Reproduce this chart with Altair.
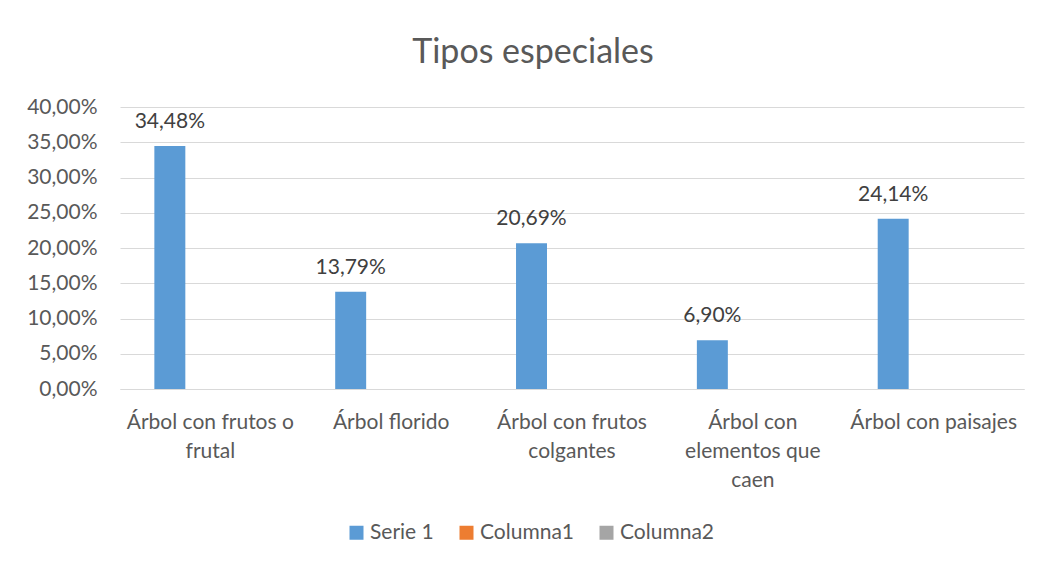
import altair as alt
import pandas as pd

categories = [
    "Árbol con frutos o frutal",
    "Árbol florido",
    "Árbol con frutos colgantes",
    "Árbol con elementos que caen",
    "Árbol con paisajes",
]
label_lines = [
    ["Árbol con frutos o", "frutal"],
    ["Árbol florido"],
    ["Árbol con frutos", "colgantes"],
    ["Árbol con", "elementos que", "caen"],
    ["Árbol con paisajes"],
]
serie1 = [34.48, 13.79, 20.69, 6.90, 24.14]
series = ["Serie 1", "Columna1", "Columna2"]
colors = ["#5b9bd5", "#ed7d31", "#a5a5a5"]
y_ticks = [0, 5, 10, 15, 20, 25, 30, 35, 40]

df = pd.DataFrame({
    "cat": categories,
    "serie": ["Serie 1"] * len(categories),
    "val": serie1,
})
df["lbl"] = [f"{v:.2f}%".replace(".", ",") for v in serie1]

# label expression for wrapped x labels
expr = "''"
for c, lines in reversed(list(zip(categories, label_lines))):
    arr = "[" + ",".join("'" + l + "'" for l in lines) + "]"
    expr = f"datum.value == '{c}' ? {arr} : ({expr})"

FONT = "Lato"
FS = 21

x = alt.X("cat:N", sort=categories, title=None,
          scale=alt.Scale(paddingInner=0.381, paddingOuter=0.19),
          axis=alt.Axis(labelAngle=0, labelExpr=expr, labelFontSize=FS,
                        labelColor="#595959", labelFont=FONT, labelLimit=300,
                        labelBaseline="top", labelPadding=22, labelLineHeight=29,
                        ticks=False, domainColor="#d9d9d9", domainWidth=1,
                        grid=False))
xo = alt.XOffset("serie:N", scale=alt.Scale(domain=series, paddingInner=0.235, paddingOuter=0))
y = alt.Y("val:Q", title=None,
          scale=alt.Scale(domain=[0, 40], nice=False),
          axis=alt.Axis(values=y_ticks, labelExpr="replace(format(datum.value, '.2f'), '.', ',') + '%'",
                        labelFontSize=FS, labelColor="#595959", labelFont=FONT,
                        labelPadding=23, ticks=False, domain=False,
                        gridColor="#d9d9d9", gridWidth=1))

bars = alt.Chart(df).mark_bar().encode(
    x=x, xOffset=xo, y=y,
    color=alt.Color("serie:N", scale=alt.Scale(domain=series, range=colors),
                    legend=alt.Legend(title=None, orient="none", direction="horizontal",
                                      legendX=226, legendY=415, symbolType="square",
                                      symbolSize=196, symbolStrokeWidth=0,
                                      labelFontSize=FS, labelColor="#595959",
                                      labelFont=FONT, columnPadding=22, labelOffset=3,
                                      padding=0)),
)
texts = alt.Chart(df).mark_text(fontSize=FS, color="#404040", font=FONT,
                                baseline="alphabetic", dy=-18).encode(
    x=x, xOffset=xo, y=y, text="lbl:N")

chart = alt.layer(bars, texts).properties(
    width=904, height=282,
    title=alt.TitleParams("Tipos especiales", fontSize=34, font=FONT, color="#595959",
                          fontWeight="normal", anchor="middle", frame="group",
                          baseline="alphabetic", offset=-1, dx=-39),
    autosize=alt.AutoSizeParams(type="none"),
    padding={"left": 112, "top": 99, "right": 10, "bottom": 165},
).configure_view(stroke=None)

chart.save("out.html", embed_options={"renderer": "svg", "actions": False})
